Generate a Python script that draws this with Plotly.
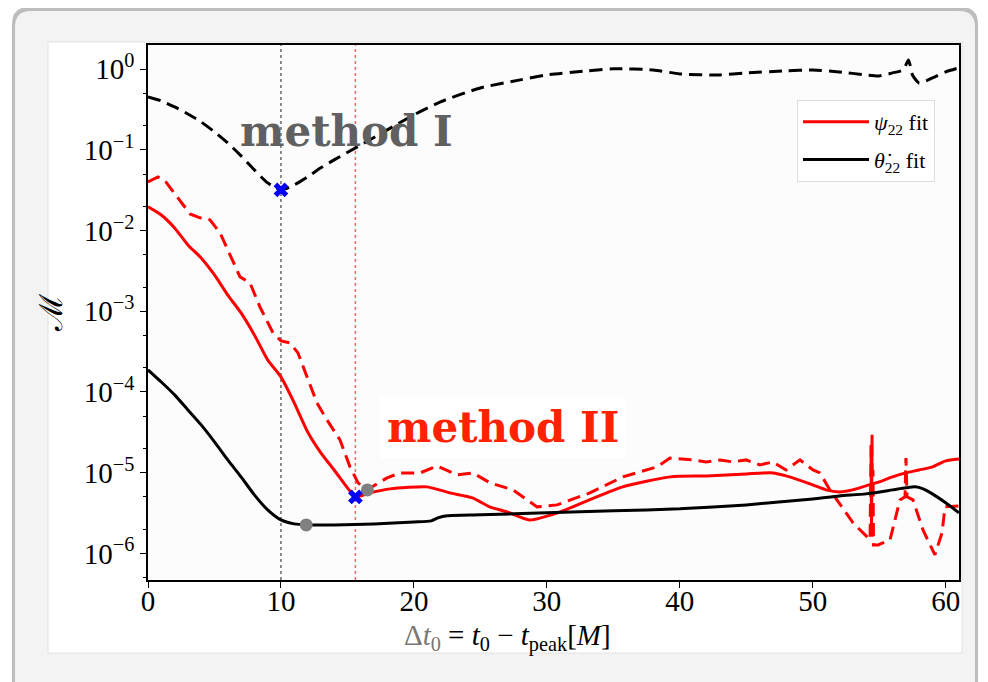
import plotly.graph_objects as go

# ---------------- data ----------------
t_theta_dash = [0, 1, 2, 3, 4, 5, 6, 7, 8, 9, 10, 11, 12, 13, 14, 16, 18, 20, 22, 25, 28, 30, 33, 35, 38,
                40, 43, 45, 48, 50, 52, 54, 55, 56, 56.8, 57.2, 57.5, 58, 59, 60, 61]
m_theta_dash = [0.454, 0.405, 0.341, 0.279, 0.222, 0.167, 0.122, 0.0843, 0.0565, 0.039, 0.0319, 0.0368,
                0.0463, 0.0599, 0.0752, 0.115, 0.177, 0.272, 0.394, 0.586, 0.737, 0.849, 0.953, 1.01, 0.98,
                0.875, 0.849, 0.90, 0.953, 0.98, 0.926, 0.849, 0.826, 0.90, 0.98, 1.30, 0.849, 0.676, 0.78,
                0.926, 1.04]

t_theta_solid = [0, 1, 2, 3, 4, 5, 6, 7, 8, 9, 10, 11, 12, 14, 17, 20, 21.3, 21.8, 22.5, 25, 30, 35, 40, 45,
                 50, 52, 54, 56, 57, 57.7, 58.3, 59, 60, 61]
m_theta_solid = [1.88e-4, 1.33e-4, 9.2e-5, 6.0e-5, 3.91e-5, 2.41e-5, 1.44e-5, 8.87e-6, 5.31e-6, 3.46e-6,
                 2.60e-6, 2.32e-6, 2.25e-6, 2.25e-6, 2.32e-6, 2.45e-6, 2.53e-6, 2.75e-6, 2.92e-6, 3.00e-6,
                 3.18e-6, 3.37e-6, 3.56e-6, 3.99e-6, 4.73e-6, 5.15e-6, 5.46e-6, 6.12e-6, 6.49e-6, 6.67e-6,
                 6.30e-6, 5.46e-6, 4.23e-6, 3.18e-6]

t_psi_solid = [0, 1, 2, 3, 4, 5, 6, 7, 8, 9, 10, 11, 12, 13, 14, 15, 15.6, 16.7, 18.2, 21, 22.7, 24.4, 25.7,
               27, 28.7, 30.8, 33.2, 35.7, 39.3, 42, 45, 47, 48, 50, 51, 52, 53, 54, 55, 56, 57, 58, 59, 60, 61]
m_psi_solid = [0.0197, 0.0156, 0.0108, 0.00664, 0.00458, 0.00282, 0.00159, 9.55e-4, 5.10e-4, 2.50e-4,
               1.54e-4, 7.33e-5, 3.21e-5, 1.76e-5, 1.08e-5, 6.48e-6, 5.01e-6, 5.62e-6, 6.30e-6, 6.67e-6,
               5.62e-6, 4.88e-6, 3.77e-6, 3.27e-6, 2.60e-6, 3.18e-6, 4.60e-6, 6.67e-6, 8.87e-6, 9.12e-6,
               9.66e-6, 9.94e-6, 9.12e-6, 7.06e-6, 6.12e-6, 5.78e-6, 6.12e-6, 6.86e-6, 7.69e-6, 8.87e-6,
               9.94e-6, 1.08e-5, 1.18e-5, 1.40e-5, 1.48e-5]

t_psi_dash = [0, 0.75, 1.28, 1.81, 2.41, 3.16, 3.91, 4.66, 5.42, 6.17, 6.92, 7.67, 8.42, 9.40, 10.0, 10.68,
              11.28, 11.96, 12.71, 13.46, 14.44, 15.19, 15.80, 16.47, 17.98, 18.96, 20.47, 21.74, 23.25,
              24.44, 25.72, 27.45, 29.26, 30.76, 33.24, 35.72, 38.28, 39.26, 40.99, 41.97, 43.03, 44.0,
              44.98, 46.03, 47.0, 47.99, 49.04, 50.02, 50.54, 51.29, 53.03, 54.31, 54.38, 54.42, 54.46,
              54.50, 54.53, 54.57, 54.91, 55.81, 56.56, 56.94, 57.01, 57.09, 57.54, 58.29, 59.19, 59.72,
              59.95, 61.0]
m_psi_dash = [0.0401, 0.0463, 0.0413, 0.0319, 0.0240, 0.0161, 0.0144, 0.0136, 0.00936, 0.00500, 0.00267,
              0.00225, 0.00113, 5.40e-4, 4.30e-4, 4.06e-4, 3.05e-4, 1.54e-4, 7.33e-5, 4.51e-5, 2.55e-5,
              1.18e-5, 7.48e-6, 6.12e-6, 8.63e-6, 9.94e-6, 9.94e-6, 1.21e-5, 9.39e-6, 9.94e-6, 7.48e-6,
              6.12e-6, 3.77e-6, 3.99e-6, 5.62e-6, 8.87e-6, 1.18e-5, 1.52e-5, 1.44e-5, 1.36e-5, 1.44e-5,
              1.36e-5, 1.44e-5, 1.25e-5, 1.36e-5, 1.08e-5, 1.44e-5, 1.08e-5, 9.94e-6, 6.12e-6, 2.39e-6,
              1.47e-6, 2.21e-5, 1.95e-6, 2.94e-5, 1.47e-6, 1.08e-5, 1.27e-6, 1.27e-6, 1.47e-6, 4.60e-6,
              5.01e-6, 1.52e-5, 5.01e-6, 4.60e-6, 1.95e-6, 9.58e-7, 1.79e-6, 3.77e-6, 3.88e-6]

best_x_t = [10.0, 15.6]
best_x_m = [0.0319, 5.01e-6]
dot_t = [11.9, 16.5]
dot_m = [2.25e-6, 6.12e-6]
vline_method1 = 10.0
vline_method2 = 15.6

x_ticks = [0, 10, 20, 30, 40, 50, 60]
y_tickvals = [1e-6, 1e-5, 1e-4, 1e-3, 1e-2, 1e-1, 1]
y_ticktext = ["10<sup>−6</sup>", "10<sup>−5</sup>", "10<sup>−4</sup>", "10<sup>−3</sup>",
              "10<sup>−2</sup>", "10<sup>−1</sup>", "10<sup>0</sup>"]

# ---------------- layout geometry ----------------
# the page body has an 8px margin, so the figure is placed 8px right / down
OFF = 8
W, H = 988 - OFF, 682 - OFF
L, R, T, B = 148 - OFF, 988 - 959, 45 - OFF, 682 - 580
PW, PH = W - L - R, H - T - B


def px(x):  # page x pixel -> paper
    return (x - OFF - L) / PW


def py(y):  # page y pixel -> paper
    return (H - B - (y - OFF)) / PH


SERIF = "Liberation Serif, Times New Roman, serif"

fig = go.Figure()

fig.add_trace(go.Scatter(x=t_theta_dash, y=m_theta_dash, mode="lines", showlegend=False,
                         line=dict(color="black", width=3, dash="13px,7px", shape="spline", smoothing=0.6)))
fig.add_trace(go.Scatter(x=t_psi_dash, y=m_psi_dash, mode="lines", showlegend=False,
                         line=dict(color="#ff0000", width=3, dash="13px,7px")))
fig.add_trace(go.Scatter(x=t_psi_solid, y=m_psi_solid, mode="lines",
                         name="<i>ψ</i><sub>22</sub> fit", legendgroup="a",
                         line=dict(color="#ff0000", width=3, shape="spline", smoothing=0.6)))
fig.add_trace(go.Scatter(x=t_theta_solid, y=m_theta_solid, mode="lines",
                         name="<i>θ̇</i><sub>22</sub> fit", legendgroup="b",
                         line=dict(color="black", width=3, shape="spline", smoothing=0.6)))
fig.add_trace(go.Scatter(x=dot_t, y=dot_m, mode="markers", showlegend=False,
                         marker=dict(color="#808080", size=13)))
fig.add_trace(go.Scatter(x=best_x_t, y=best_x_m, mode="markers", showlegend=False,
                         marker=dict(color="#0000ff", size=13, symbol="x", line=dict(width=0))))

# background decoration (page card, white panel, plot background)
card_path = (f"M {px(12)},{py(700)} L {px(12)},{py(24)} Q {px(12)},{py(7)} {px(29)},{py(7)} "
             f"L {px(961)},{py(7)} Q {px(978)},{py(7)} {px(978)},{py(24)} L {px(978)},{py(700)} Z")
card_path2 = (f"M {px(15)},{py(700)} L {px(15)},{py(27)} Q {px(15)},{py(11)} {px(31)},{py(11)} "
              f"L {px(959)},{py(11)} Q {px(975)},{py(11)} {px(975)},{py(27)} L {px(975)},{py(700)} Z")
shapes = [
    dict(type="path", path=card_path, xref="paper", yref="paper", layer="below",
         fillcolor="#bdbdbd", line=dict(width=0)),
    dict(type="path", path=card_path2, xref="paper", yref="paper", layer="below",
         fillcolor="#f3f3f3", line=dict(width=0)),
    dict(type="rect", xref="paper", yref="paper", x0=px(48), x1=px(962), y0=py(653), y1=py(42),
         layer="below", fillcolor="white", line=dict(color="#e2e2e2", width=1)),
    dict(type="rect", xref="paper", yref="paper", x0=0, x1=1, y0=0, y1=1,
         layer="below", fillcolor="#fcfcfc", line=dict(width=0)),
    dict(type="line", xref="x", yref="paper", x0=vline_method1, x1=vline_method1, y0=0, y1=1,
         layer="below", line=dict(color="#444444", width=1.2, dash="dot")),
    dict(type="line", xref="x", yref="paper", x0=vline_method2, x1=vline_method2, y0=0, y1=1,
         layer="below", line=dict(color="#ff6060", width=1.5, dash="dot")),
]

annotations = [
    dict(text="<b>method I</b>", xref="paper", yref="paper", x=px(346), y=py(131),
         xanchor="center", yanchor="middle", showarrow=False,
         font=dict(family="DejaVu Serif", size=42, color="#606060")),
    dict(text="<b>method II</b>", xref="paper", yref="paper", x=px(503), y=py(428),
         xanchor="center", yanchor="middle", showarrow=False, bgcolor="white", borderpad=6,
         font=dict(family="DejaVu Serif", size=42, color="#ff2200")),
    dict(text="<span style='color:#777777'>Δ<i>t</i><sub>0</sub></span> = "
              "<i>t</i><sub>0</sub> − <i>t</i><sub>peak</sub>[<i>M</i>]",
         xref="paper", yref="paper", x=px(507), y=py(637), xanchor="center", yanchor="middle",
         showarrow=False, font=dict(family=SERIF, size=29, color="black")),
]

fig.update_layout(
    width=W, height=H,
    margin=dict(l=L, r=R, t=T, b=B, pad=0),
    paper_bgcolor="white",
    plot_bgcolor="rgba(0,0,0,0)",
    shapes=shapes,
    annotations=annotations,
    font=dict(family=SERIF, color="black"),
    legend=dict(x=px(797), y=py(100), xanchor="left", yanchor="top",
                bgcolor="white", bordercolor="#dddddd", borderwidth=1,
                font=dict(family=SERIF, size=22, color="black"),
                itemwidth=66, tracegroupgap=6),
    xaxis=dict(range=[0, 61], tickvals=x_ticks, ticks="outside", ticklen=6, tickwidth=1,
               tickcolor="black", showline=True, linecolor="black", linewidth=1.5, mirror=True,
               showgrid=False, zeroline=False, ticklabelstandoff=-12,
               tickfont=dict(family=SERIF, size=29, color="black")),
    yaxis=dict(type="log", range=[-6.33, 0.30], tickvals=y_tickvals, ticktext=y_ticktext,
               ticks="outside", ticklen=6, tickwidth=1, tickcolor="black",
               minor=dict(ticks="outside", ticklen=3, tickcolor="black", showgrid=False),
               showline=True, linecolor="black", linewidth=1.5, mirror=True,
               showgrid=False, zeroline=False,
               tickfont=dict(family=SERIF, size=29, color="black"),
               title=dict(text="ℳ", font=dict(family=SERIF, size=32, color="black"), standoff=12)),
)

fig.write_html("out.html")
